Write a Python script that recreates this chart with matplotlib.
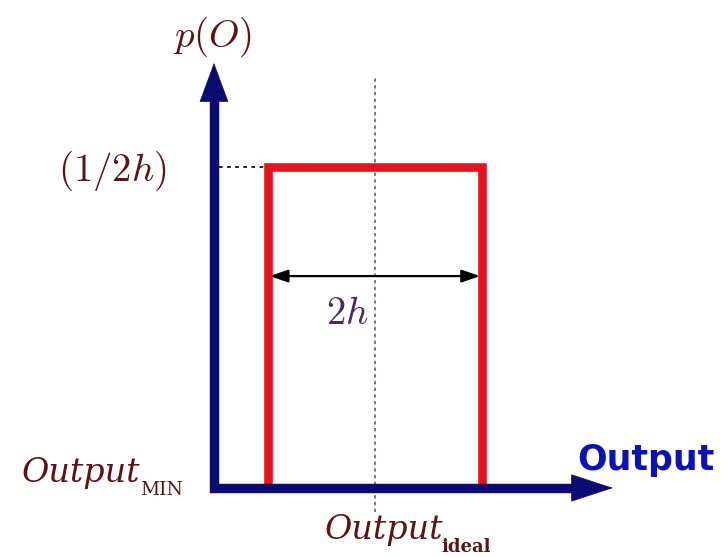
import matplotlib
matplotlib.use("Agg")
import matplotlib.pyplot as plt

plt.rcParams['mathtext.fontset'] = 'cm'

# Uniform distribution on [ideal - h, ideal + h]
out_min = 0.0
out_ideal = 1.5
h = 1.0
density = 1.0 / (2 * h)

# Drawing extents along each axis
x_axis_end = 3.72
y_axis_end = 0.662
guide_top = 0.640
guide_bottom = -0.037
span_level = 0.330

NAVY = "#0b0b72"
RED = "#e3141b"
MAROON = "#5a1616"
PURPLE = "#4b2a5c"
BLUE = "#0c12b4"

fig = plt.figure(figsize=(7.27, 5.57), dpi=100)
ax = fig.add_axes([0, 0, 1, 1])
ax.set_xlim(-1.995, 4.783)
ax.set_ylim(-0.1075, 0.760)
ax.axis("off")

lo, hi = out_ideal - h, out_ideal + h

# dotted guides
ax.plot([out_ideal, out_ideal], [guide_bottom, guide_top], color="#555566",
        lw=1.1, ls=(0, (2.2, 2.2)), zorder=1)
ax.plot([out_min + 0.05, lo], [density, density], color="#111111",
        lw=1.3, ls=(0, (2, 2.5)), zorder=1)

# density (three sides of the box)
ax.plot([lo, lo, hi, hi], [0, density, density, 0], color=RED, lw=6.2,
        solid_joinstyle="miter", solid_capstyle="butt", zorder=3)

# coordinate axes: thick shafts plus filled arrowheads
x_head_base = x_axis_end - 0.37
y_head_base = y_axis_end - 0.057
ax.plot([out_min, out_min, x_head_base], [y_head_base, 0, 0], color=NAVY,
        lw=6.8, solid_joinstyle="miter", solid_capstyle="butt", zorder=4)
ax.annotate("", xy=(x_axis_end, 0), xytext=(x_head_base - 0.1, 0),
            arrowprops=dict(arrowstyle="-|>,head_length=2.9,head_width=0.95",
                            mutation_scale=10, fc=NAVY, ec=NAVY, lw=0.5,
                            shrinkA=0, shrinkB=0), zorder=4)
ax.annotate("", xy=(out_min, y_axis_end), xytext=(out_min, y_head_base - 0.02),
            arrowprops=dict(arrowstyle="-|>,head_length=2.7,head_width=1.0",
                            mutation_scale=10, fc=NAVY, ec=NAVY, lw=0.5,
                            shrinkA=0, shrinkB=0), zorder=4)

# width marker
ax.annotate("", xy=(hi - 0.02, span_level), xytext=(lo + 0.02, span_level),
            arrowprops=dict(arrowstyle="<|-|>,head_length=1.1,head_width=0.38",
                            mutation_scale=10, color="black", lw=1.6,
                            shrinkA=0, shrinkB=0), zorder=5)

# labels
ax.text(out_min - 0.015, 0.703, r"$p(O)$", fontsize=28, color=MAROON,
        ha="center", va="center")
ax.text(-0.95, density - 0.006, r"$(1/2h)$", fontsize=28, color=MAROON,
        ha="center", va="center")
ax.text(out_ideal - 0.26, 0.272, r"$2h$", fontsize=28, color=PURPLE,
        ha="center", va="center")

ax.text(-1.79, 0.0093, "Output", family="DejaVu Serif", style="italic",
        fontsize=24, color=MAROON, ha="left", va="baseline")
ax.text(-0.69, -0.011, "MIN", family="DejaVu Serif", fontsize=13.5,
        color=MAROON, ha="left", va="baseline")

ax.text(1.035, -0.0795, "Output", family="DejaVu Serif", style="italic",
        fontsize=24, color=MAROON, ha="left", va="baseline")
ax.text(2.12, -0.100, "ideal", family="DejaVu Serif", weight="bold",
        fontsize=13, color=MAROON, ha="left", va="baseline")

ax.text(3.385, 0.028, "Output", family="DejaVu Sans", weight="bold",
        fontsize=25, color=BLUE, ha="left", va="baseline")

fig.savefig("out.png", dpi=100)
